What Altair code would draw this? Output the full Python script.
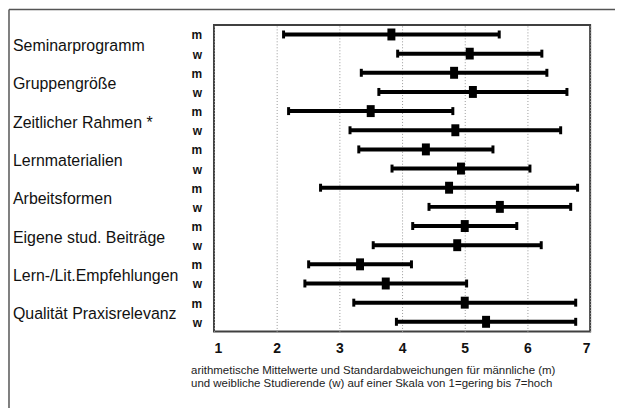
import altair as alt
import pandas as pd

categories = ["Seminarprogramm", "Gruppengröße", "Zeitlicher Rahmen *", "Lernmaterialien",
              "Arbeitsformen", "Eigene stud. Beiträge", "Lern-/Lit.Empfehlungen", "Qualität Praxisrelevanz"]
groups = ["m", "w"]
mean_m = [3.83, 4.83, 3.50, 4.38, 4.75, 5.00, 3.33, 5.00]
sd_m   = [1.72, 1.48, 1.31, 1.07, 2.05, 0.83, 0.82, 1.77]
mean_w = [5.08, 5.13, 4.85, 4.94, 5.56, 4.88, 3.74, 5.34]
sd_w   = [1.15, 1.50, 1.68, 1.10, 1.13, 1.34, 1.29, 1.43]
x_ticks = [1, 2, 3, 4, 5, 6, 7]
footer = ["arithmetische Mittelwerte und Standardabweichungen für männliche (m)",
          "und weibliche Studierende (w) auf einer Skala von 1=gering bis 7=hoch"]

rows = []
for i, c in enumerate(categories):
    for j, (g, mu, sd) in enumerate([("m", mean_m[i], sd_m[i]), ("w", mean_w[i], sd_w[i])]):
        rows.append({"cat": c, "group": g, "row": 2 * i + j, "mean": mu,
                     "lo": mu - sd, "hi": mu + sd})
df = pd.DataFrame(rows)
cat_df = pd.DataFrame({"cat": categories, "pos": [2 * i + 0.5 for i in range(len(categories))]})

FONT = "Liberation Sans"
xs = alt.Scale(domain=[1, 7], nice=False, zero=False)
ys = alt.Scale(domain=[-0.5, 15.5], reverse=True, nice=False, zero=False)

x_axis = alt.Axis(values=x_ticks, title=None, grid=True, gridColor="#999999", gridDash=[1, 2],
                  gridWidth=1, ticks=False, domain=False, labelFontSize=14, labelFontWeight="bold",
                  labelFont=FONT, labelColor="#111111", labelPadding=10, format="d",
                  labelOverlap=False)

base = alt.Chart(df)

bars = base.mark_rule(color="black", strokeWidth=4).encode(
    x=alt.X("lo:Q", scale=xs, axis=x_axis),
    x2="hi:Q",
    y=alt.Y("row:Q", scale=ys, axis=None),
)
cap_lo = base.mark_tick(color="black", thickness=3, size=8, orient="vertical", opacity=1).encode(
    x=alt.X("lo:Q", scale=xs), y=alt.Y("row:Q", scale=ys, axis=None))
cap_hi = base.mark_tick(color="black", thickness=3, size=8, orient="vertical", opacity=1).encode(
    x=alt.X("hi:Q", scale=xs), y=alt.Y("row:Q", scale=ys, axis=None))
means = base.mark_tick(color="black", thickness=8, size=12, orient="vertical", opacity=1).encode(
    x=alt.X("mean:Q", scale=xs), y=alt.Y("row:Q", scale=ys, axis=None))

grp_labels = base.mark_text(align="right", baseline="middle", font=FONT, fontSize=12,
                            fontWeight="bold", color="#111111", dy=1).encode(
    x=alt.value(-12), y=alt.Y("row:Q", scale=ys, axis=None), text="group:N")

cat_labels = alt.Chart(cat_df).mark_text(align="left", baseline="middle", font=FONT,
                                         fontSize=16, color="#111111", dy=2).encode(
    x=alt.value(-202), y=alt.Y("pos:Q", scale=ys, axis=None), text="cat:N")

foot = alt.Chart(pd.DataFrame({"k": [0]})).mark_text(
    align="left", baseline="top", font=FONT, fontSize=11.5, color="#222222", lineHeight=13).encode(
    x=alt.value(-23), y=alt.value(342), text=alt.value(footer))

border_top = alt.Chart(pd.DataFrame({"k": [0]})).mark_rule(color="#555555", strokeWidth=1.5).encode(
    x=alt.value(-206), x2=alt.value(420), y=alt.value(-15.5))
border_left = alt.Chart(pd.DataFrame({"k": [0]})).mark_rule(color="#555555", strokeWidth=1.5).encode(
    x=alt.value(-206), y=alt.value(-15.5), y2=alt.value(400))

chart = alt.layer(bars, cap_lo, cap_hi, means, grp_labels, cat_labels, foot, border_top,
                  border_left).properties(
    width=378, height=308,
    autosize=alt.AutoSizeParams(type="none"),
    padding={"left": 207, "top": 16, "right": 25, "bottom": 76},
).configure_view(stroke="#404040", strokeWidth=2)

chart.save("out.html", embed_options={"renderer": "svg", "actions": False})
